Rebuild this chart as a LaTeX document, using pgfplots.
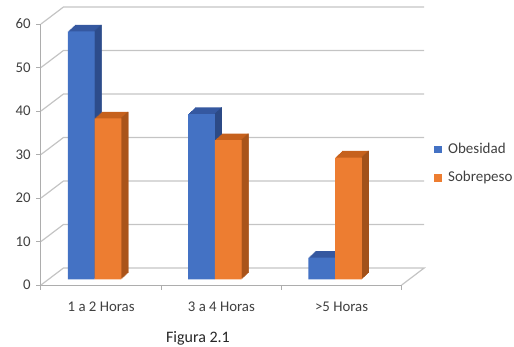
\documentclass[border=0pt]{standalone}
\usepackage{pgfplots}
\pgfplotsset{compat=1.18}
\usepackage{pgfplotstable}
\usepackage{fontspec}
\setmainfont{Carlito}
\definecolor{obF}{HTML}{4472C4}
\definecolor{obT}{HTML}{3558A0}
\definecolor{obS}{HTML}{2C4A86}
\definecolor{soF}{HTML}{ED7D31}
\definecolor{soT}{HTML}{C6611D}
\definecolor{soS}{HTML}{A2511A}
\definecolor{wallgray}{HTML}{C4C4C4}
\definecolor{axisgray}{HTML}{ADADAD}
\definecolor{txtgray}{HTML}{404040}

\pgfplotstableread{
x ob so
0.5 57 37
1.5 38 32
2.5 5 28
}\datatable

\begin{document}
\begin{tikzpicture}
\useasboundingbox (-41pt,-61pt) rectangle (473pt,285pt);
\begin{axis}[
  scale only axis, width=360.7pt, height=261pt,
  xmin=0, xmax=3, ymin=0, ymax=60, clip=false,
  axis x line*=bottom, axis y line*=left,
  axis line style={draw=axisgray, line width=1pt},
  xtick={0,1,2,3}, xticklabels={},
  extra x ticks={0.5,1.5,2.5},
  extra x tick labels={1 a 2 Horas,3 a 4 Horas,{>5 Horas}},
  extra x tick style={major tick length=0pt, tick style={draw=none}},
  ytick={0,10,...,60},
  tick align=outside, major tick length=4.5pt,
  tick style={draw=axisgray, line width=1pt},
  ticklabel style={font=\fontsize{14.8}{16}\selectfont, text=txtgray},
  xticklabel style={yshift=-13pt},
  yticklabel style={xshift=-2.3pt},
  /pgf/number format/assume math mode=true,
  every axis plot/.append style={forget plot},
  legend style={at={(1.0896,0.552)}, anchor=north west, draw=none, fill=none,
    font=\fontsize{15}{16}\selectfont, text=txtgray, row sep=12.5pt, inner sep=0pt},
  legend cell align=left,
]
% back wall and floor
\addplot[wallgray, line width=1.2pt] coordinates {(0,0) (0.187,3.91) (3.187,3.91) (3,0)};
\addplot[wallgray, line width=1.2pt] coordinates {(0,10) (0.187,13.91) (3.187,13.91)};
\addplot[wallgray, line width=1.2pt] coordinates {(0,20) (0.187,23.91) (3.187,23.91)};
\addplot[wallgray, line width=1.2pt] coordinates {(0,30) (0.187,33.91) (3.187,33.91)};
\addplot[wallgray, line width=1.2pt] coordinates {(0,40) (0.187,43.91) (3.187,43.91)};
\addplot[wallgray, line width=1.2pt] coordinates {(0,50) (0.187,53.91) (3.187,53.91)};
\addplot[wallgray, line width=1.2pt] coordinates {(0,60) (0.187,63.91) (3.187,63.91)};

% Obesidad
\pgfplotsinvokeforeach{7,6,...,1}{
  \addplot[ybar, bar width=26.7pt, bar shift=-13.35pt, fill=obT, draw=none,
    xshift={(-6.5+#1)*1pt}, yshift={(5.7+0.93*#1)*1pt}] table[x=x,y=ob]{\datatable};
}
\pgfplotsinvokeforeach{1,...,7}{
  \addplot[ybar, bar width=1.1pt, bar shift=-0.5pt, fill=obS, draw=none,
    xshift={(-6.5+#1)*1pt}, yshift={(5.7+0.93*#1)*1pt}] table[x=x,y=ob]{\datatable};
}
\addplot[ybar, bar width=26.7pt, bar shift=-13.35pt, fill=obF, draw=none,
    xshift=-6.5pt, yshift=5.7pt] table[x=x,y=ob]{\datatable};

% Sobrepeso
\pgfplotsinvokeforeach{7,6,...,1}{
  \addplot[ybar, bar width=26.7pt, bar shift=13.35pt, fill=soT, draw=none,
    xshift={(-6.5+#1)*1pt}, yshift={(5.7+0.93*#1)*1pt}] table[x=x,y=so]{\datatable};
}
\pgfplotsinvokeforeach{1,...,7}{
  \addplot[ybar, bar width=1.1pt, bar shift=26.2pt, fill=soS, draw=none,
    xshift={(-6.5+#1)*1pt}, yshift={(5.7+0.93*#1)*1pt}] table[x=x,y=so]{\datatable};
}
\addplot[ybar, bar width=26.7pt, bar shift=13.35pt, fill=soF, draw=none,
    xshift=-6.5pt, yshift=5.7pt] table[x=x,y=so]{\datatable};

\addlegendimage{legend image code/.code={\fill[obF] (0pt,-3.3pt) rectangle (6.6pt,3.3pt); \path (11.5pt,0pt);}}
\addlegendentry{Obesidad}
\addlegendimage{legend image code/.code={\fill[soF] (0pt,-3.3pt) rectangle (6.6pt,3.3pt); \path (11.5pt,0pt);}}
\addlegendentry{Sobrepeso}
\end{axis}
\node[anchor=base, font=\fontsize{16}{18}\selectfont, text=black!85] at (157pt,-57.7pt) {Figura 2.1};
\end{tikzpicture}
\end{document}
